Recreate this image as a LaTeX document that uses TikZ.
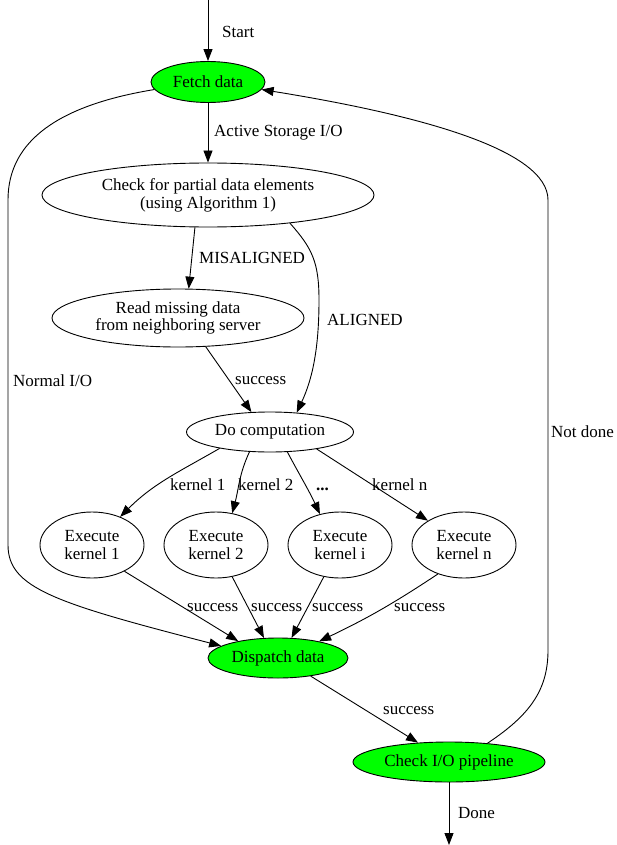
\documentclass[tikz,border=0pt]{standalone}
\usepackage{fontspec}
\setmainfont{Liberation Serif}
\usetikzlibrary{arrows.meta,shapes.geometric}
\definecolor{gvgreen}{RGB}{0,255,0}
\begin{document}
\begin{tikzpicture}[x=1pt,y=-1pt,
  every node/.style={font=\fontsize{17}{17.7}\selectfont},
  st/.style={ellipse,draw,line width=0.9pt,inner sep=0pt,align=center},
  gr/.style={st,fill=gvgreen},
  lbl/.style={anchor=west,inner sep=0pt},
  arr/.style={draw,line width=0.9pt,-{Triangle[length=12pt,width=9pt]}}]
\useasboundingbox (0,0) rectangle (616,845);

% nodes
\node[gr,minimum width=114pt,minimum height=41pt] (fetch) at (208,82) {Fetch data};
\node[st,minimum width=332pt,minimum height=64pt] (check) at (208,195) {Check for partial data elements\\(using Algorithm 1)};
\node[st,minimum width=252pt,minimum height=58pt] (read) at (178,318) {Read missing data\\from neighboring server};
\node[st,minimum width=167pt,minimum height=40pt] (do) at (270,432) {Do computation};
\node[st,minimum width=104pt,minimum height=66pt] (k1) at (92,545) {Execute\\kernel 1};
\node[st,minimum width=104pt,minimum height=66pt] (k2) at (216,545) {Execute\\kernel 2};
\node[st,minimum width=104pt,minimum height=66pt] (ki) at (340,545) {Execute\\kernel i};
\node[st,minimum width=104pt,minimum height=66pt] (kn) at (464,545) {Execute\\kernel n};
\node[gr,minimum width=140pt,minimum height=40pt] (disp) at (278,658) {Dispatch data};
\node[gr,minimum width=192pt,minimum height=40pt] (cio) at (449,762) {Check I/O pipeline};

\coordinate (s) at (208,0);
\coordinate (e) at (449,845);

% edges
\draw[arr] (s) -- (fetch);
\draw[arr] (fetch) -- (check);
\draw[arr] (check.-112) -- (read.70);
\draw[arr] (check.-19) .. controls (312,248) and (319,262) .. (319,300)
  .. controls (319,350) and (312,380) .. (do.36);
\draw[arr] (read.-46) -- (do.133);
\draw[arr] (do.198) to[out=-150,in=45] (k1.45);
\draw[arr] (do.224) to[out=-115,in=75] (k2.63);
\draw[arr] (do.-49) to[out=-62,in=115] (ki.123);
\draw[arr] (do.-20.5) -- (kn.146.5);
\draw[arr] (k1.-39) -- (disp.157.7);
\draw[arr] (k2.-63) -- (disp.125.5);
\draw[arr] (ki.-117) -- (disp.56.5);
\draw[arr] (kn.-132) to[bend left=4] (disp.22);
\draw[arr] (fetch.188) .. controls (60,105) and (8,140) .. (8,200)
  -- (8,545) .. controls (8,588) and (55,603) .. (disp.168);
\draw[arr] (disp.-29) -- (cio.148.6);
\draw[arr] (cio) -- (e);
\draw[arr] (cio.26.5) .. controls (530,715) and (548,690) .. (548,650)
  -- (548,200) .. controls (548,150) and (420,115) .. (fetch.-8);

% labels
\node[lbl] (lstart) at (222,32) {Start};
\node[lbl] (lasio) at (214,133) {Active Storage I/O};
\node[lbl] (lmis) at (199,258) {MISALIGNED};
\node[lbl] (lal) at (327,320) {ALIGNED};
\node[lbl] (lsr) at (235,381) {success};
\node[lbl] (lnio) at (13,381) {Normal I/O};
\node[lbl] (lnd) at (551,432) {Not done};
\node[lbl] (lk1) at (170,485) {kernel 1};
\node[lbl] (lk2) at (238,485) {kernel 2};
\node[lbl,anchor=base west] (lki) at (316,490) {\textbf{...}};
\node[lbl] (lkn) at (372,485) {kernel n};
\node[lbl] (ls1) at (187,608) {success};
\node[lbl] (ls2) at (251,608) {success};
\node[lbl] (ls3) at (312,608) {success};
\node[lbl] (ls4) at (394,608) {success};
\node[lbl] (lsd) at (383,711) {success};
\node[lbl] (ldone) at (458,813) {Done};
\end{tikzpicture}
\end{document}
